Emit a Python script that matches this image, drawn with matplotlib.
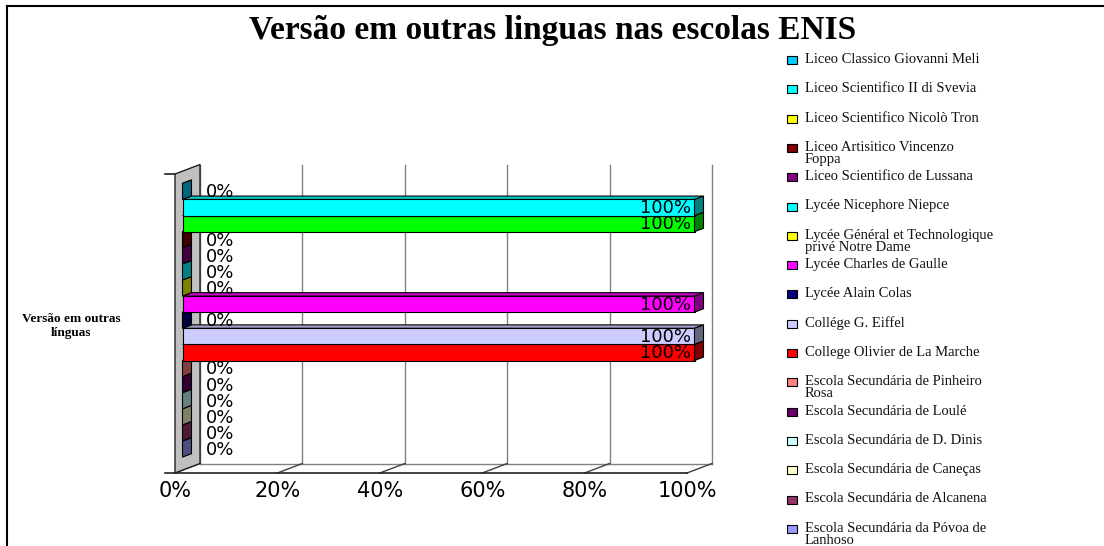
# Gráfico de barras horizontais (estilo 3D do Excel) - Versão em outras línguas
import matplotlib
matplotlib.use("Agg")
import matplotlib.pyplot as plt
from matplotlib.patches import Polygon, Rectangle
from matplotlib.lines import Line2D
from matplotlib.transforms import IdentityTransform
from matplotlib.colors import to_rgb

titulo = "Versão em outras linguas nas escolas ENIS"
categoria = "Versão em outras\nlínguas"

# escolas (ordem da legenda, de cima para baixo)
escolas = [
    "Liceo Classico Giovanni Meli",
    "Liceo Scientifico II di Svevia",
    "Liceo Scientifico Nicolò Tron",
    "Liceo Artisitico Vincenzo\nFoppa",
    "Liceo Scientifico de Lussana",
    "Lycée Nicephore Niepce",
    "Lycée Général et Technologique\nprivé Notre Dame",
    "Lycée Charles de Gaulle",
    "Lycée Alain Colas",
    "Collége G. Eiffel",
    "College Olivier de La Marche",
    "Escola Secundária de Pinheiro\nRosa",
    "Escola Secundária de Loulé",
    "Escola Secundária de D. Dinis",
    "Escola Secundária de Caneças",
    "Escola Secundária de Alcanena",
    "Escola Secundária da Póvoa de\nLanhoso",
]
valores = [0, 100, 100, 0, 0, 0, 0, 100, 0, 100, 100, 0, 0, 0, 0, 0, 0]

cores_barras = ["#00CCFF", "#00FFFF", "#00FF00", "#800000", "#800080", "#00FFFF",
                "#FFFF00", "#FF00FF", "#000080", "#CCCCFF", "#FF0000", "#FF8080",
                "#660066", "#CCFFFF", "#FFFFCC", "#993366", "#9999FF"]
cores_legenda = ["#00CCFF", "#00FFFF", "#FFFF00", "#800000", "#800080", "#00FFFF",
                 "#FFFF00", "#FF00FF", "#000080", "#CCCCFF", "#FF0000", "#FF8080",
                 "#660066", "#CCFFFF", "#FFFFCC", "#993366", "#9999FF"]

ticks = [0, 20, 40, 60, 80, 100]
tick_labels = ["0%", "20%", "40%", "60%", "80%", "100%"]

plt.rcParams['font.family'] = ['Liberation Serif', 'DejaVu Serif']

W, H = 1104, 546
fig = plt.figure(figsize=(W / 100, H / 100), dpi=100)
ax = fig.add_axes([175 / W, (H - 473) / H, 512 / W, 299 / H])
n = len(valores)
ax.set_xlim(0, 100)
ax.set_ylim(n - 0.5 + 0.81, -0.5 - 0.76)
ax.set_autoscale_on(False)
ax.patch.set_visible(False)
for s in ax.spines.values():
    s.set_visible(False)

# profundidade em pixels (parede) e das barras
DX, DY = 25, 9.5
D0, D1 = 0.3, 0.66


def pt(x, y, d):
    px, py = ax.transData.transform((x, y))
    return (px + d * DX, py + d * DY)


def poly(pts, fc, ec, lw=0.8, z=2):
    p = Polygon(pts, closed=True, facecolor=fc, edgecolor=ec, linewidth=lw,
                transform=IdentityTransform(), clip_on=False, zorder=z)
    ax.add_patch(p)


def shade(c, f):
    r, g, b = to_rgb(c)
    return (r * f, g * f, b * f)


y0, y1 = ax.get_ylim()  # y0 = baixo, y1 = topo

# parede de fundo: linhas de grade
for t in ticks:
    ax.add_line(Line2D(*zip(pt(t, y0, 1), pt(t, y1, 1)), color="#808080", lw=1,
                       transform=IdentityTransform(), clip_on=False, zorder=1))
# chão
ax.add_line(Line2D(*zip(pt(0, y0, 1), pt(100, y0, 1)), color="#808080", lw=1,
                   transform=IdentityTransform(), clip_on=False, zorder=1))
for t in ticks:
    ax.add_line(Line2D(*zip(pt(t, y0, 0), pt(t, y0, 1)), color="#404040", lw=1,
                       transform=IdentityTransform(), clip_on=False, zorder=1))
ax.add_line(Line2D(*zip(pt(-2, y0, 0), pt(100, y0, 0)), color="#202020", lw=1.2,
                   transform=IdentityTransform(), clip_on=False, zorder=1))
ax.add_line(Line2D(*zip(pt(-2, y1, 0), pt(0, y1, 0)), color="#202020", lw=1.2,
                   transform=IdentityTransform(), clip_on=False, zorder=1))

# parede lateral
poly([pt(0, y0, 0), pt(0, y1, 0), pt(0, y1, 1), pt(0, y0, 1)], "#C0C0C0", "#202020", lw=1, z=1.5)

# barras (de baixo para cima)
for i in range(n - 1, -1, -1):
    v = valores[i]
    c = cores_barras[i]
    top, bot = i - 0.5, i + 0.5
    poly([pt(0, top, D0), pt(v, top, D0), pt(v, top, D1), pt(0, top, D1)], shade(c, 0.8), "black")
    if v > 0:
        poly([pt(0, top, D0), pt(v, top, D0), pt(v, bot, D0), pt(0, bot, D0)], c, "black")
    poly([pt(v, top, D0), pt(v, bot, D0), pt(v, bot, D1), pt(v, top, D1)], shade(c, 0.5), "black")

# rótulos de dados
for i, v in enumerate(valores):
    if v == 0:
        ax.annotate(f"{v}%", xy=(v, i), xytext=(31, 2), textcoords="offset pixels",
                    ha="left", va="center", fontsize=13, family="DejaVu Sans", zorder=5)
    else:
        ax.annotate(f"{v}%", xy=(v, i), xytext=(4, 2), textcoords="offset pixels",
                    ha="right", va="center", fontsize=13, family="DejaVu Sans", zorder=5)

# eixos
ax.set_xticks(ticks)
ax.set_xticklabels(tick_labels, fontsize=15, family="DejaVu Sans")
ax.tick_params(axis="x", length=0, pad=6)
ax.set_yticks([(n - 1) / 2])
ax.set_yticklabels([categoria], fontsize=9.5, fontweight="bold", ha="center", linespacing=1.3)
ax.tick_params(axis="y", length=0, pad=75)

# título
fig.text(553 / W, 1 - 31 / H, titulo, ha="center", va="center", fontsize=24, fontweight="bold")

# legenda
for k, (nome, cor) in enumerate(zip(escolas, cores_legenda)):
    yk = 60 + 29.3 * k
    fig.add_artist(Rectangle((787 / W, 1 - (yk + 4) / H), 10 / W, 8 / H, facecolor=cor,
                             edgecolor="black", linewidth=0.8, transform=fig.transFigure))
    fig.text(805 / W, 1 - (yk - 7) / H, nome, ha="left", va="top", fontsize=10.5,
             linespacing=0.9, color="#111111")

# moldura
fig.add_artist(Line2D([7 / W, 7 / W], [0, 1 - 6 / H], color="black", lw=1.5, transform=fig.transFigure))
fig.add_artist(Line2D([7 / W, 1], [1 - 6 / H, 1 - 6 / H], color="black", lw=1.5, transform=fig.transFigure))

fig.savefig("out.png", dpi=100)
